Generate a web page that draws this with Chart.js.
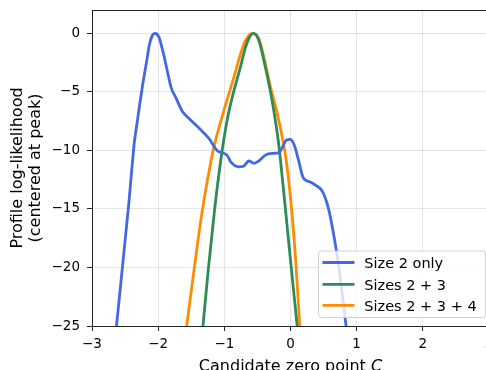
<!DOCTYPE html>
<html>
<head>
<meta charset="utf-8">
<script src="https://cdn.jsdelivr.net/npm/chart.js@4/dist/chart.umd.min.js"></script>
<style>
  html, body { margin: 0; padding: 0; background: #fff; overflow: hidden; }
  #wrap { width: 500px; height: 370px; }
</style>
</head>
<body>
<div id="wrap"><canvas id="c" width="500" height="370"></canvas></div>
<script>
// Profile log-likelihood of the zero point C, one curve per combination of sizes.
const seriesNames = ['Size 2 only', 'Sizes 2 + 3', 'Sizes 2 + 3 + 4'];
const seriesColors = ['#4169E1', '#2E8B57', '#FF8C00'];

const size2C  = [-2.63, -2.56, -2.50, -2.44, -2.40, -2.36, -2.32, -2.24, -2.18, -2.13, -2.09, -2.05,
                 -1.99, -1.93, -1.87, -1.80, -1.74, -1.63, -1.53, -1.38, -1.23, -1.11, -0.96, -0.90,
                 -0.78, -0.71, -0.63, -0.55, -0.48, -0.38, -0.28, -0.18, -0.12, -0.06, 0.00, 0.06,
                 0.12, 0.19, 0.30, 0.40, 0.45, 0.50, 0.54, 0.58, 0.64, 0.70, 0.75, 0.80, 0.84];
const size2LL = [-25.0, -21.1, -17.7, -14.3, -11.7, -9.3, -7.7, -4.6, -2.6, -0.9, -0.2, 0.0,
                 -0.3, -1.5, -3.0, -4.7, -5.4, -6.7, -7.3, -8.1, -9.0, -10.0, -10.4, -11.0,
                 -11.4, -11.35, -10.9, -11.1, -10.9, -10.4, -10.25, -10.2, -9.7, -9.1, -9.05, -9.6,
                 -10.8, -12.3, -12.7, -13.05, -13.25, -13.7, -14.3, -15.1, -16.8, -18.8, -20.8, -23.1, -25.0];

const size23C  = [-1.323, -1.243, -1.148, -1.054, -0.958, -0.860, -0.757, -0.679, -0.603, -0.555,
                  -0.478, -0.403, -0.327, -0.252, -0.192, -0.151, -0.075, 0.00, 0.101];
const size23LL = [-25.0, -20.2, -15.1, -10.84, -7.42, -5.0, -2.88, -1.17, -0.17, 0.0,
                  -0.6, -2.3, -4.3, -6.6, -8.85, -10.84, -15.1, -19.37, -25.0];

const size234C  = [-1.569, -1.458, -1.332, -1.199, -1.157, -1.006, -0.855, -0.754, -0.679, -0.578,
                   -0.478, -0.403, -0.302, -0.200, -0.125, -0.065, 0.018, 0.078, 0.140];
const size234LL = [-25.0, -20.2, -15.1, -10.84, -9.7, -6.57, -3.73, -1.74, -0.6, 0.0,
                   -0.45, -2.02, -4.58, -6.85, -8.85, -10.84, -15.1, -19.37, -25.0];

const xTicks = [-3, -2, -1, 0, 1, 2, 3];
const yTicks = [-25, -20, -15, -10, -5, 0];

const toPoints = (xs, ys) => xs.map((x, i) => ({ x: x, y: ys[i] }));
const curves = [[size2C, size2LL], [size23C, size23LL], [size234C, size234LL]];

const FONT = '"DejaVu Sans", "Liberation Sans", sans-serif';
const minusSign = v => String(v).replace('-', '\u2212');
const noScalePadding = s => {
  s.paddingTop = 0; s.paddingBottom = 0; s.paddingLeft = 0; s.paddingRight = 0;
};

// Spines on top/right, axis titles and an in-plot legend.
const decorations = {
  id: 'decorations',
  afterDraw(chart) {
    const ctx = chart.ctx;
    const a = chart.chartArea;
    ctx.save();
    ctx.strokeStyle = '#222';
    ctx.lineWidth = 1;
    ctx.beginPath();
    ctx.moveTo(Math.round(a.left) + 0.5, Math.round(a.top) + 0.5);
    ctx.lineTo(Math.round(a.right) + 0.5, Math.round(a.top) + 0.5);
    ctx.lineTo(Math.round(a.right) + 0.5, Math.round(a.bottom) + 0.5);
    ctx.stroke();

    // x title with italic C
    ctx.fillStyle = '#000';
    ctx.textBaseline = 'alphabetic';
    const t1 = 'Candidate zero point ';
    ctx.font = '16px ' + FONT;
    const w1 = ctx.measureText(t1).width;
    ctx.font = 'italic 16px ' + FONT;
    const w2 = ctx.measureText('C').width;
    const cx = (a.left + a.right) / 2;
    let x0 = cx - (w1 + w2) / 2;
    ctx.font = '16px ' + FONT;
    ctx.textAlign = 'left';
    ctx.fillText(t1, x0, 370.5);
    ctx.font = 'italic 16px ' + FONT;
    ctx.fillText('C', x0 + w1, 370.5);

    // y title, two lines
    const cy = (a.top + a.bottom) / 2;
    ctx.font = '16px ' + FONT;
    ctx.textAlign = 'center';
    [['Profile log-likelihood', 21.5], ['(centered at peak)', 40.2]].forEach(([txt, bx]) => {
      ctx.save();
      ctx.translate(bx, cy);
      ctx.rotate(-Math.PI / 2);
      ctx.fillText(txt, 0, 0);
      ctx.restore();
    });

    // legend
    const lx = 318.5, ly = 251, lw = 167, lh = 66.5, r = 3;
    ctx.beginPath();
    ctx.moveTo(lx + r, ly);
    ctx.lineTo(lx + lw - r, ly);
    ctx.arcTo(lx + lw, ly, lx + lw, ly + r, r);
    ctx.lineTo(lx + lw, ly + lh - r);
    ctx.arcTo(lx + lw, ly + lh, lx + lw - r, ly + lh, r);
    ctx.lineTo(lx + r, ly + lh);
    ctx.arcTo(lx, ly + lh, lx, ly + lh - r, r);
    ctx.lineTo(lx, ly + r);
    ctx.arcTo(lx, ly, lx + r, ly, r);
    ctx.closePath();
    ctx.fillStyle = 'rgba(255,255,255,0.8)';
    ctx.fill();
    ctx.strokeStyle = '#d0d0d0';
    ctx.lineWidth = 1;
    ctx.stroke();

    const rows = [262.5, 284.3, 305.3];
    ctx.font = '14.5px ' + FONT;
    ctx.textAlign = 'left';
    ctx.textBaseline = 'alphabetic';
    chart.data.datasets.forEach((ds, i) => {
      ctx.strokeStyle = ds.borderColor;
      ctx.lineWidth = 2.8;
      ctx.beginPath();
      ctx.moveTo(322.5, rows[i]);
      ctx.lineTo(354.5, rows[i]);
      ctx.stroke();
      ctx.fillStyle = '#000';
      ctx.fillText(ds.label, 364.3, rows[i] + 5.3);
    });
    ctx.restore();
  }
};

new Chart(document.getElementById('c'), {
  type: 'line',
  data: {
    datasets: curves.map((c, i) => ({
      label: seriesNames[i],
      data: toPoints(c[0], c[1]),
      borderColor: seriesColors[i],
      backgroundColor: seriesColors[i],
      borderWidth: 2.8,
      pointRadius: 0,
      fill: false,
      cubicInterpolationMode: 'monotone'
    }))
  },
  options: {
    responsive: false,
    animation: false,
    events: [],
    layout: { autoPadding: false, padding: { left: 0, top: 10, right: 11, bottom: 0 } },
    plugins: { legend: { display: false }, tooltip: { enabled: false } },
    scales: {
      x: {
        type: 'linear',
        min: -3, max: 3,
        afterFit: s => { s.height = 44; noScalePadding(s); },
        afterBuildTicks: s => { s.ticks = xTicks.map(v => ({ value: v })); },
        ticks: { callback: minusSign, color: '#000', font: { family: FONT, size: 13.5 }, padding: 5, maxRotation: 0 },
        grid: { color: 'rgba(0,0,0,0.1)', lineWidth: 1, tickColor: '#222', tickLength: 5 },
        border: { display: true, color: '#222', width: 1 }
      },
      y: {
        type: 'linear',
        min: -25, max: 2,
        afterFit: s => { s.width = 92; noScalePadding(s); },
        afterBuildTicks: s => { s.ticks = yTicks.map(v => ({ value: v })); },
        ticks: { callback: minusSign, color: '#000', font: { family: FONT, size: 13.5 }, padding: 7 },
        grid: { color: 'rgba(0,0,0,0.1)', lineWidth: 1, tickColor: '#222', tickLength: 5 },
        border: { display: true, color: '#222', width: 1 }
      }
    }
  },
  plugins: [decorations]
});
</script>
</body>
</html>
